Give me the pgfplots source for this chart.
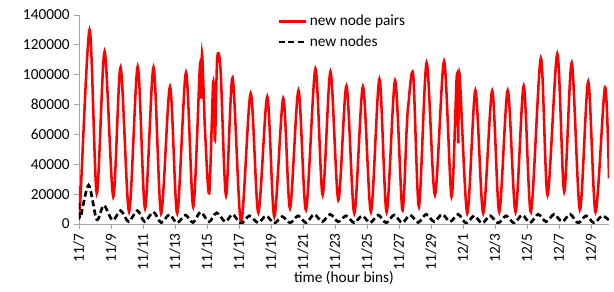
\documentclass[border=0pt]{standalone}
\usepackage{pgfplots}
\pgfplotsset{compat=1.18}
\usepackage{fontspec}
\setmainfont{Carlito}
\begin{document}
\begin{tikzpicture}
\useasboundingbox (-59.25pt,-51pt) rectangle (401.25pt,168pt);
\begin{axis}[
  at={(0,0)}, anchor=south west,
  scale only axis, width=397.5pt, height=156.75pt,
  xmin=0, xmax=33.13, ymin=0, ymax=140000,
  axis x line*=bottom, axis y line*=left,
  axis line style={draw=gray!70, line width=0.6pt},
  tick style={draw=gray!70, line width=0.6pt},
  tick align=outside, major tick length=3.5pt,
  ytick={0,20000,...,140000},
  scaled y ticks=false,
  /pgf/number format/.cd, fixed, 1000 sep={}, assume math mode=true,
  /pgfplots/.cd,
  xtick={0,2,...,32},
  xticklabels={11/7,11/9,11/11,11/13,11/15,11/17,11/19,11/21,11/23,11/25,11/27,11/29,12/1,12/3,12/5,12/7,12/9},
  xticklabel style={rotate=90, anchor=east, font=\fontsize{11.5pt}{13pt}\selectfont},
  yticklabel style={font=\fontsize{11.5pt}{13pt}\selectfont},
  xlabel={time (hour bins)},
  xlabel style={font=\fontsize{11.5pt}{13pt}\selectfont, yshift=6pt},
  legend style={at={(0.372,1.02)}, anchor=north west, draw=none, fill=none,
    font=\fontsize{11.5pt}{13pt}\selectfont, row sep=2pt, inner sep=1pt},
  legend cell align=left,
  legend image code/.code={\draw[#1] (0pt,0pt) -- (20pt,0pt);},
]
\addplot[red, line width=1.9pt, smooth, tension=0.5] coordinates {
(0,25500) (0.06,11600) (0.66,130000) (1.11,20500)
(1.6,115500) (2.14,18300)
(2.6,105000) (3.13,8300)
(3.67,105500) (4.13,10500)
(4.66,105000) (5.13,7100)
(5.69,92000) (6.14,7100)
(6.69,101500) (7.14,11600)
(7.56,106000) (7.63,84000) (7.69,114000) (7.8,86000) (7.88,62000) (8.14,20500)
(8.39,95000) (8.5,56300) (8.64,111000) (8.85,103000) (9.19,19100)
(9.6,98000) (10.13,800)
(10.73,87500) (11.21,7500)
(11.77,85300) (12.21,4900)
(12.77,84200) (13.19,10500)
(13.72,89500) (14.19,9400)
(14.78,104000) (15.23,19400)
(15.72,102000) (16.21,16100)
(16.72,92500) (17.21,7100)
(17.75,92000) (18.25,8000)
(18.78,97000) (19.23,8000)
(19.76,96000) (20.21,9400)
(20.48,63000) (20.58,79000) (20.89,100000) (21.25,11600)
(21.73,108000) (22.25,19400)
(22.82,109000) (23.29,18300)
(23.62,100000) (23.71,54000) (23.78,101000) (24.27,7100)
(24.78,89500) (25.27,7100)
(25.83,89200) (26.27,8000)
(26.8,89500) (27.29,8000)
(27.8,92500) (28.25,8000)
(28.87,111000) (29.29,19400)
(29.9,114000) (30.33,21600)
(30.8,108000) (31.31,9400)
(31.83,95400) (32.29,8000)
(32.88,91600) (33.13,30600)
};
\addlegendentry{new node pairs}
\addplot[black, line width=2pt, dash pattern=on 4.5pt off 2.5pt, smooth, tension=0.5] coordinates {
(0,14000) (0.08,4000) (0.6,26000) (1.11,3000) (1.55,12500) (2.1,2500) (2.6,9000) (3.1,1600)
(3.65,9000) (4.1,1600) (4.65,8000) (5.13,900) (5.65,6300) (6.13,700) (6.65,6000) (7.13,1000)
(7.6,8000) (8.13,1500) (8.6,7500) (9.15,1500) (9.6,6500) (10.13,300) (10.65,5500) (11.2,800)
(11.7,5500) (12.2,500) (12.7,5000) (13.2,800) (13.7,5500) (14.2,800) (14.7,6500) (15.2,1500)
(15.7,6500) (16.2,1500) (16.7,5500) (17.2,800) (17.7,5500) (18.2,800) (18.7,6000) (19.2,800)
(19.7,6000) (20.2,800) (20.7,6000) (21.2,1000) (21.7,6500) (22.2,1500) (22.7,6500) (23.2,1500)
(23.7,6500) (24.2,500) (24.7,5500) (25.2,500) (25.7,5500) (26.2,600) (26.7,5500) (27.2,600)
(27.7,6000) (28.2,800) (28.7,6500) (29.2,1500) (29.7,6500) (30.2,1500) (30.7,6500) (31.2,700)
(31.7,5500) (32.2,700) (32.7,5500) (33.13,2500)
};
\addlegendentry{new nodes}
\end{axis}
\end{tikzpicture}
\end{document}
